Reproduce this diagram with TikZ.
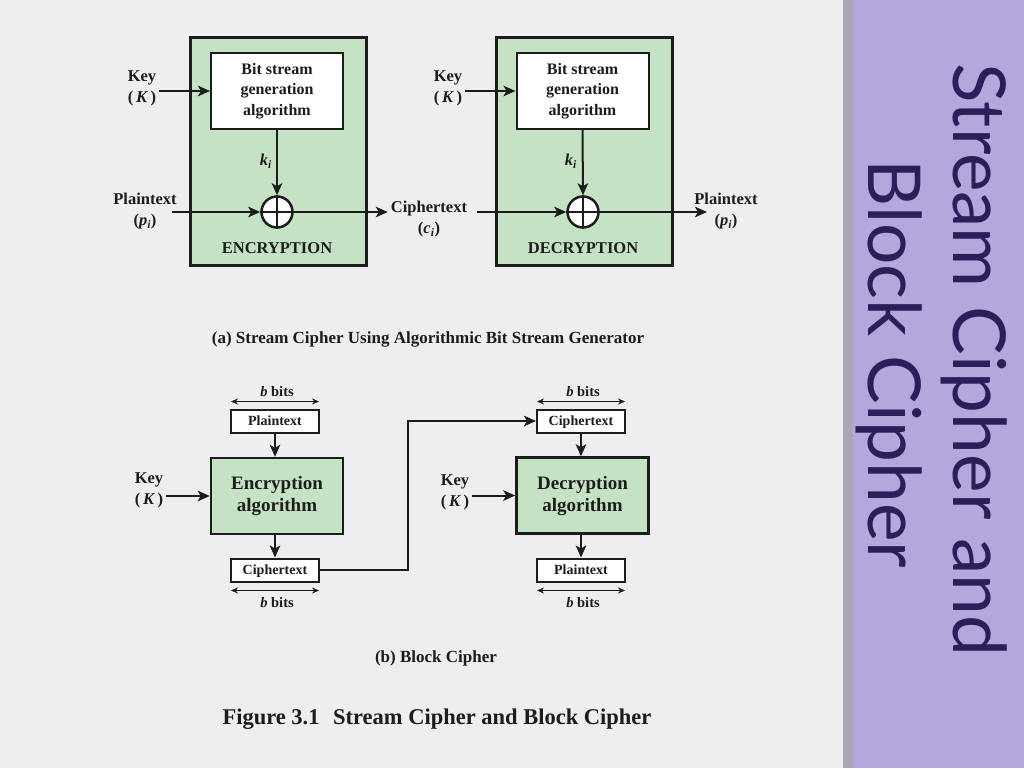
\documentclass[tikz,border=0pt]{standalone}
\usepackage{fontspec}
\setmainfont{Liberation Serif}
\newfontfamily\titlefont{Lato}
\usetikzlibrary{arrows.meta,calc}
\definecolor{bg}{HTML}{EEEEF1}
\definecolor{band}{HTML}{B4A7DC}
\definecolor{bandshadow}{HTML}{A9A7B2}
\definecolor{titlecol}{HTML}{2B1E5A}
\definecolor{boxgreen}{HTML}{C5E3C4}
\definecolor{ink}{HTML}{1C1C1C}
\begin{document}
\begin{tikzpicture}[x=1pt,y=-1pt,
  every node/.style={font=\bfseries, text=ink},
  outerbox/.style={draw=ink, line width=3pt, fill=boxgreen, minimum width=176pt, minimum height=228pt, inner sep=0pt},
  innerbox/.style={draw=ink, line width=2pt, fill=white, minimum width=132pt, minimum height=76pt, align=center, inner sep=0pt, font=\bfseries\fontsize{16}{20.5}\selectfont},
  algbox/.style={draw=ink, line width=2.5pt, fill=boxgreen, minimum width=132pt, minimum height=76pt, align=center, inner sep=0pt, font=\bfseries\fontsize{19}{22}\selectfont},
  smallbox/.style={draw=ink, line width=2pt, fill=white, minimum width=88pt, minimum height=23pt, inner sep=0pt, text height=9.5pt, text depth=1.5pt, font=\bfseries\fontsize{14}{16}\selectfont},
  xorc/.style={circle, draw=ink, line width=2.5pt, fill=white, minimum size=31pt, inner sep=0pt},
  lbl/.style={align=center, inner sep=3pt, font=\bfseries\fontsize{16.5}{21}\selectfont},
  bitslbl/.style={inner sep=0pt, font=\bfseries\fontsize{14.5}{16}\selectfont},
  caption/.style={inner sep=0pt, font=\bfseries\fontsize{17}{20}\selectfont},
  titlestyle/.style={rotate=-90, anchor=base, inner sep=0pt, text=titlecol, font=\titlefont\fontsize{73}{83}\selectfont},
  arr/.style={draw=ink, line width=2pt, -{Stealth[length=12pt,width=10.5pt,inset=3pt]}},
  dbl/.style={draw=ink, line width=1pt, {Stealth[length=7pt,width=6pt]}-{Stealth[length=7pt,width=6pt]}}
]
\useasboundingbox (0,0) rectangle (1024,768);
\fill[bg] (0,0) rectangle (1024,768);
\fill[bandshadow] (843,0) rectangle (853,768);
\fill[band] (853,0) rectangle (1024,768);

% ---------- (a) stream cipher ----------
\node[outerbox] (encbox) at (278,151.5) {};
\node[innerbox] (gen1) at (277,91) {Bit stream\\generation\\algorithm};
\node[xorc] (x1) at (277,212) {};
\draw[ink, line width=2.5pt] (x1.north) -- (x1.south) (x1.west) -- (x1.east);
\node[lbl, anchor=east] (ki1) at (275,161) {\textit{k}\textsubscript{\textit{i}}};
\node[lbl] (key1) at (142,88) {Key\\(\,\textit{K}\,)};
\node[lbl] (pt1) at (145,211) {Plaintext\\(\textit{p}\textsubscript{\textit{i}})};
\node[lbl] (enclbl) at (277,248) {ENCRYPTION};
\node[lbl] (ct) at (429,219) {Ciphertext\\(\textit{c}\textsubscript{\textit{i}})};

\node[outerbox] (decbox) at (584.5,151.5) {};
\node[innerbox] (gen2) at (582.5,91) {Bit stream\\generation\\algorithm};
\node[xorc] (x2) at (583,212) {};
\draw[ink, line width=2.5pt] (x2.north) -- (x2.south) (x2.west) -- (x2.east);
\node[lbl, anchor=east] (ki2) at (580,161) {\textit{k}\textsubscript{\textit{i}}};
\node[lbl] (key2) at (448,88) {Key\\(\,\textit{K}\,)};
\node[lbl] (declbl) at (583,248) {DECRYPTION};
\node[lbl] (pt2) at (726,211) {Plaintext\\(\textit{p}\textsubscript{\textit{i}})};

\coordinate (pin1) at (172,212);
\coordinate (cin2) at (477,212);
\coordinate (pout2) at (707,212);
\draw[arr] (key1.east |- gen1.west) -- (gen1.west);
\draw[arr] (gen1.south) -- (x1.north);
\draw[arr] (pin1) -- (x1.west);
\draw[arr] (x1.east) -- (ct.west |- x1.east);
\draw[arr] (key2.east |- gen2.west) -- (gen2.west);
\draw[arr] (gen2.south) -- (x2.north);
\draw[arr] (cin2) -- (x2.west);
\draw[arr] (x2.east) -- (pout2);

\node[caption] (capa) at (428,339) {(a) Stream Cipher Using Algorithmic Bit Stream Generator};

% ---------- (b) block cipher ----------
\node[smallbox] (bpt1) at (275,421) {Plaintext};
\node[algbox] (benc) at (277,496) {Encryption\\algorithm};
\node[smallbox] (bct1) at (275,570) {Ciphertext};
\node[lbl] (key3) at (149,490) {Key\\(\,\textit{K}\,)};
\node[bitslbl] (bits1) at (277,392) {\textit{b} bits};
\node[bitslbl] (bits2) at (277,603) {\textit{b} bits};

\node[smallbox] (bct2) at (581,421) {Ciphertext};
\node[algbox] (bdec) at (582.5,495.5) {Decryption\\algorithm};
\node[smallbox] (bpt2) at (581,570) {Plaintext};
\node[lbl] (key4) at (455,492) {Key\\(\,\textit{K}\,)};
\node[bitslbl] (bits3) at (583,392) {\textit{b} bits};
\node[bitslbl] (bits4) at (583,603) {\textit{b} bits};

\draw[dbl] ($(bpt1.north west)+(1,-7)$) -- ($(bpt1.north east)+(-1,-7)$);
\draw[dbl] ($(bct1.south west)+(1,8)$) -- ($(bct1.south east)+(-1,8)$);
\draw[dbl] ($(bct2.north west)+(1,-7)$) -- ($(bct2.north east)+(-1,-7)$);
\draw[dbl] ($(bpt2.south west)+(1,8)$) -- ($(bpt2.south east)+(-1,8)$);

\draw[arr] (bpt1.south) -- (bpt1.south |- benc.north);
\draw[arr] (bpt1.south |- benc.south) -- (bct1.north);
\draw[arr] (key3.east |- benc.west) -- (benc.west);
\draw[arr] (bct2.south) -- (bct2.south |- bdec.north);
\draw[arr] (bct2.south |- bdec.south) -- (bpt2.north);
\draw[arr] (key4.east |- bdec.west) -- (bdec.west);
\draw[arr] (bct1.east) -- ++(88,0) |- (bct2.west);

\node[caption] (capb) at (436,658) {(b) Block Cipher};
\node[inner sep=0pt, font=\bfseries\fontsize{22.5}{26}\selectfont] (fig) at (437,719) {Figure 3.1\hspace{0.6em}Stream Cipher and Block Cipher};

% ---------- title band ----------
\node[titlestyle] (title1) at (953,360) {Stream Cipher and};
\node[titlestyle] (title2) at (868,364) {Block Cipher};
\end{tikzpicture}
\end{document}
